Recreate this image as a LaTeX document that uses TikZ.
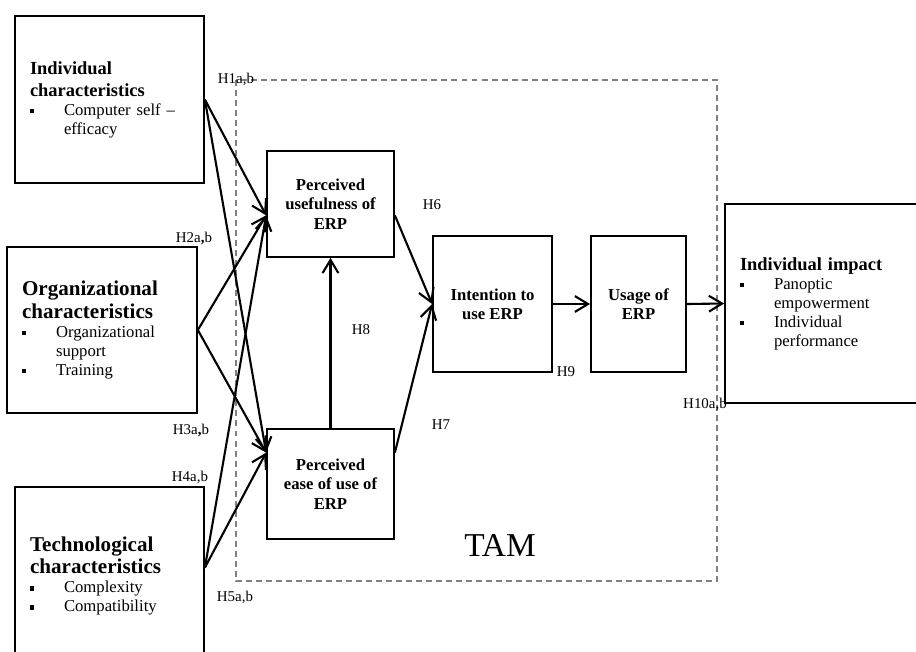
\documentclass[tikz,border=0pt]{standalone}
\usepackage{fontspec}
\setmainfont{Liberation Serif}
\usetikzlibrary{positioning, arrows.meta}

\newcommand{\hdsmall}{\fontsize{10.5}{12.5}\selectfont\bfseries}
\newcommand{\hdlarge}{\fontsize{12}{13}\selectfont\bfseries}
\newcommand{\sqitem}[1]{\par\fontsize{9.5}{10.8}\selectfont\raggedright
  \hangindent=0.68cm\hangafter=1\noindent
  \makebox[0.68cm][l]{\rule[0.3ex]{0.085cm}{0.085cm}}#1\par}

\begin{document}
\begin{tikzpicture}[
  x=0.02cm, y=-0.02cm,
  factor/.style={rectangle, draw, line width=1pt, inner xsep=0.3cm,
                 inner ysep=0pt, align=left},
  construct/.style={rectangle, draw, line width=1pt, inner sep=0pt,
                    align=center, font=\fontsize{9.5}{11}\selectfont\bfseries},
  hyp/.style={inner sep=0pt, font=\fontsize{8.5}{10}\selectfont},
  tambox/.style={draw=gray, line width=0.9pt, dash pattern=on 3.4pt off 2.3pt},
  arr/.style={-{Straight Barb[length=7.5pt,width=9pt]}, line width=1.2pt}
]
  \useasboundingbox (0,0) rectangle (916,652);
  \clip (0,0) rectangle (916,652);

  % TAM frame
  \draw[tambox] (236,80) rectangle (717,581);
  \node[inner sep=0pt, font=\fontsize{19}{22}\selectfont] (tam) at (500,545) {TAM};

  % External factors
  \node[factor, text width=3.18cm, minimum height=3.34cm] (indiv) at (109.5,99.5)
    {{\hdsmall Individual\\characteristics\par}
     \sqitem{Computer self --\newline efficacy}};
  \node[factor, text width=3.2cm, minimum height=3.32cm] (org) at (102,330)
    {{\hdlarge Organizational\\characteristics\par}
     \sqitem{Organizational\newline support}
     \sqitem{Training}};
  \node[factor, text width=3.18cm, minimum height=3.56cm] (tech) at (109.5,576)
    {{\hdlarge Technological\\characteristics\par}
     \sqitem{Complexity}
     \sqitem{Compatibility}};

  % TAM constructs
  \node[construct, minimum width=2.54cm, minimum height=2.12cm] (pu) at (330.5,204)
    {Perceived\\usefulness of\\ERP};
  \node[construct, minimum width=2.54cm, minimum height=2.2cm] (pe) at (330.5,484)
    {Perceived\\ease of use of\\ERP};
  \node[construct, minimum width=2.38cm, minimum height=2.72cm] (int) at (492.5,304)
    {Intention to\\use ERP};
  \node[construct, minimum width=1.9cm, minimum height=2.72cm] (use) at (638.5,304)
    {Usage of\\ERP};

  % Outcome
  \node[factor, text width=3.8cm, minimum height=3.98cm] (impact) at (835,303.5)
    {{\hdsmall Individual impact\par}
     \sqitem{Panoptic\newline empowerment}
     \sqitem{Individual\newline performance}};

  % Arrows
  \draw[arr] (indiv.east) -- (pu.190);
  \draw[arr] (indiv.east) -- (pe.154);
  \draw[arr] (org.east) -- (pu.190);
  \draw[arr] (org.east) -- (pe.154);
  \draw[arr] (tech.5) -- (pu.190);
  \draw[arr] (tech.5) -- (pe.154);
  \draw[arr] (pu.350) -- (int.west);
  \draw[arr] (pe.26) -- (int.west);
  \draw[arr] (pe.north) -- (pu.south);
  \draw[arr] (int.east) -- (use.west);
  \draw[arr] (use.east) -- (impact.west);

  % Hypotheses
  \node[hyp] (h1) at (236,79) {H1a,b};
  \node[hyp] (h2) at (194,238) {H2a\textbf{,}b};
  \node[hyp] (h3) at (191,430) {H3a\textbf{,}b};
  \node[hyp] (h4) at (190,477) {H4a,b};
  \node[hyp] (h5) at (235,597) {H5a,b};
  \node[hyp] (h6) at (432,205) {H6};
  \node[hyp] (h7) at (441,425) {H7};
  \node[hyp] (h8) at (361,330) {H8};
  \node[hyp] (h9) at (566,372) {H9};
  \node[hyp] (h10) at (705,404) {H10a,b};
\end{tikzpicture}
\end{document}
